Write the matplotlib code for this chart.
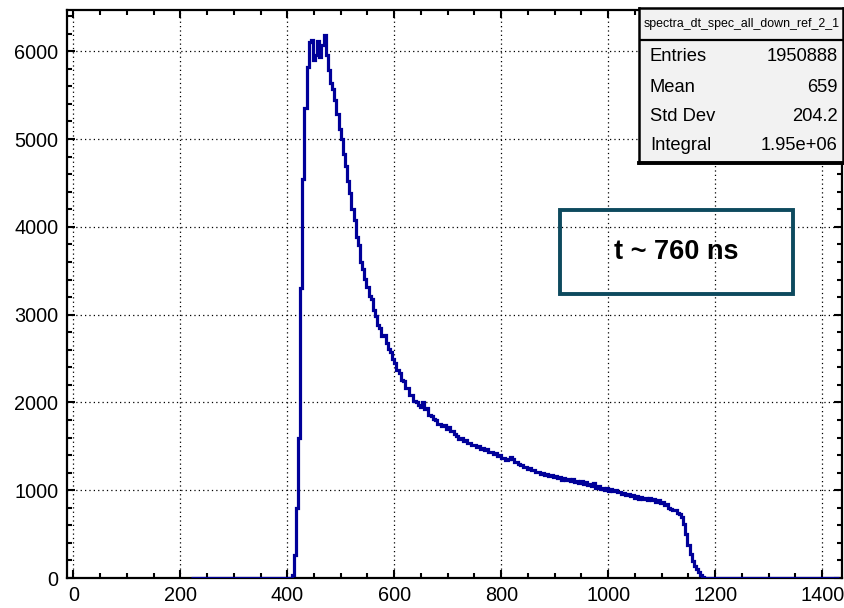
import numpy as np
import matplotlib
matplotlib.use('Agg')
import matplotlib.pyplot as plt
from matplotlib.ticker import MultipleLocator
from matplotlib.patches import Rectangle

plt.rcParams['font.family'] = ['Liberation Sans', 'DejaVu Sans']

# histogram: 4 ns bins starting at 220 ns
bin_start = 220
bin_width = 4
zeros_left = [0] * 46
signal = [
    0, 40, 260, 800, 1600, 3300, 4550, 5350, 5820, 6100,
    6130, 5900, 5960, 6120, 5930, 6070, 6180, 5960, 5790, 5640,
    5570, 5450, 5290, 5110, 5000, 4830, 4690, 4520, 4390, 4200,
    4080, 3880, 3790, 3600, 3520, 3410, 3320, 3210, 3180, 3050,
    2990, 2880, 2850, 2760, 2770, 2680, 2610, 2570, 2490, 2450,
    2370, 2330, 2260, 2240, 2170, 2160, 2090, 2090, 2020, 2010,
    1970, 1950, 2000, 1930, 1940, 1860, 1850, 1810, 1800, 1750,
    1760, 1730, 1740, 1700, 1720, 1670, 1670, 1640, 1620, 1580,
    1590, 1560, 1575, 1540, 1540, 1515, 1520, 1490, 1500, 1470,
    1480, 1455, 1465, 1440, 1440, 1415, 1425, 1395, 1400, 1370,
    1365, 1345, 1350, 1375, 1355, 1325, 1320, 1295, 1290, 1265,
    1270, 1245, 1255, 1225, 1230, 1205, 1210, 1190, 1200, 1175,
    1185, 1160, 1175, 1150, 1160, 1135, 1150, 1120, 1135, 1115,
    1130, 1105, 1125, 1095, 1110, 1085, 1100, 1075, 1090, 1060,
    1070, 1045, 1085, 1030, 1045, 1015, 1030, 1005, 1020, 995,
    1015, 990, 1005, 975, 985, 955, 970, 945, 955, 930,
    945, 915, 935, 905, 925, 900, 915, 890, 910, 885,
    900, 870, 890, 860, 870, 830, 840, 800, 790, 770,
    775, 740, 730, 690, 620, 500, 380, 270, 190, 140,
    100, 65, 35, 12, 0, 0, 0, 0, 0,
]
zeros_right = [0] * 58
counts = np.array(zeros_left + signal + zeros_right)
edges = bin_start + bin_width * np.arange(len(counts) + 1)

stat_labels = ['Entries', 'Mean', 'Std Dev', 'Integral']
stat_values = ['1950888', '659', '204.2', '1.95e+06']
hist_name = 'spectra_dt_spec_all_down_ref_2_1'
note = 't ~ 760 ns'

fig = plt.figure(figsize=(8.44, 6.08), dpi=100)
ax = fig.add_axes([0.0789, 0.0493, 0.919, 0.9343])

ax.stairs(counts, edges, color='#000099', lw=2.3, zorder=5)

ax.set_xlim(-12.5, 1437.5)
ax.set_ylim(0, 6470)
ax.xaxis.set_major_locator(MultipleLocator(200))
ax.xaxis.set_minor_locator(MultipleLocator(50))
ax.yaxis.set_major_locator(MultipleLocator(1000))
ax.yaxis.set_minor_locator(MultipleLocator(200))
ax.tick_params(which='both', direction='in', top=True, right=True, width=1.5,
               labelsize=14.3, colors='black')
ax.tick_params(which='major', length=6, pad=6)
ax.tick_params(which='minor', length=3.5)
ax.grid(True, which='major', color='black', linestyle=(0, (1, 2.5)), lw=0.9)
for s in ax.spines.values():
    s.set_linewidth(1.6)
    s.set_zorder(4)

# annotation box
ax.add_patch(Rectangle((0.636, 0.500), 0.300, 0.148, transform=ax.transAxes,
                       fill=False, edgecolor='#0d4a5e', lw=2.8, zorder=6))
ax.text(0.786, 0.574, note, transform=ax.transAxes, ha='center', va='center',
        fontsize=19.5, fontweight='bold', zorder=6)

# stats box
sb = fig.add_axes([0.757, 0.7319, 0.2417, 0.2549])
sb.set_facecolor('#f2f2f2')
sb.set_xticks([])
sb.set_yticks([])
for s in sb.spines.values():
    s.set_linewidth(1.8)
sb.spines['bottom'].set_linewidth(2.8)
sb.axhline(0.7935, color='black', lw=1.6)
sb.text(0.025, 0.897, hist_name, transform=sb.transAxes, ha='left', va='center',
        fontsize=8.9)
rows_y = [0.684, 0.490, 0.303, 0.110]
for lab, val, yy in zip(stat_labels, stat_values, rows_y):
    sb.text(0.054, yy, lab, transform=sb.transAxes, ha='left', va='center', fontsize=13.2)
    sb.text(0.975, yy, val, transform=sb.transAxes, ha='right', va='center', fontsize=13.2)

fig.savefig('out.png', dpi=100)
